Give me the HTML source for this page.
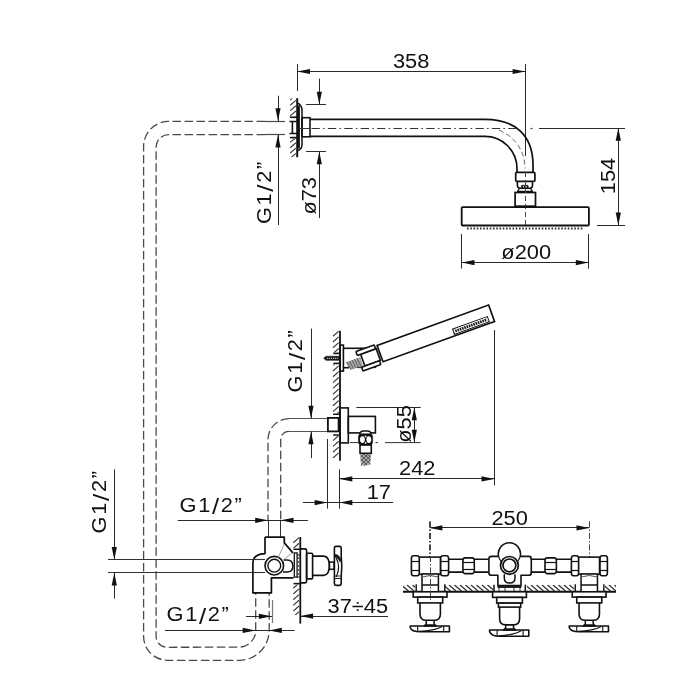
<!DOCTYPE html>
<html><head><meta charset="utf-8"><style>
html,body{margin:0;padding:0;background:#fff;width:700px;height:700px;overflow:hidden}
svg{display:block}
text{font-family:"Liberation Sans",sans-serif;fill:#111}
</style></head><body>
<svg width="700" height="700" style="will-change:transform" viewBox="0 0 700 700">
<rect width="700" height="700" fill="#fff"/>
<line x1="297.50" y1="64.00" x2="297.50" y2="91.00" stroke="#2a2a2a" stroke-width="1.0" stroke-linecap="butt"/>
<line x1="525.50" y1="64.00" x2="525.50" y2="156.00" stroke="#2a2a2a" stroke-width="1.0" stroke-linecap="butt"/>
<line x1="297.20" y1="71.50" x2="525.40" y2="71.50" stroke="#2a2a2a" stroke-width="1.0" stroke-linecap="butt"/>
<path d="M297.20,71.50 L310.00,68.90 L310.00,74.10 Z" fill="#111"/>
<path d="M525.40,71.50 L512.60,74.10 L512.60,68.90 Z" fill="#111"/>
<text transform="translate(411.10,67.90) scale(1.12,1)" text-anchor="middle" font-size="19.5">358</text>
<line x1="306.00" y1="104.50" x2="326.00" y2="104.50" stroke="#2a2a2a" stroke-width="1.0" stroke-linecap="butt"/>
<line x1="306.00" y1="151.50" x2="326.00" y2="151.50" stroke="#2a2a2a" stroke-width="1.0" stroke-linecap="butt"/>
<line x1="319.50" y1="78.60" x2="319.50" y2="104.50" stroke="#2a2a2a" stroke-width="1.0" stroke-linecap="butt"/>
<path d="M319.30,104.50 L316.70,91.70 L321.90,91.70 Z" fill="#111"/>
<line x1="319.50" y1="151.50" x2="319.50" y2="218.00" stroke="#2a2a2a" stroke-width="1.0" stroke-linecap="butt"/>
<path d="M319.30,151.50 L321.90,164.30 L316.70,164.30 Z" fill="#111"/>
<text transform="translate(315.70,195.80) rotate(-90) scale(1.12,1)" text-anchor="middle" font-size="19.5">ø73</text>
<line x1="278.50" y1="95.70" x2="278.50" y2="121.00" stroke="#2a2a2a" stroke-width="1.0" stroke-linecap="butt"/>
<path d="M278.00,121.00 L275.40,108.20 L280.60,108.20 Z" fill="#111"/>
<line x1="278.50" y1="134.60" x2="278.50" y2="225.00" stroke="#2a2a2a" stroke-width="1.0" stroke-linecap="butt"/>
<path d="M278.00,134.60 L280.60,147.40 L275.40,147.40 Z" fill="#111"/>
<text transform="translate(270.70,192.90) rotate(-90) scale(1.12,1)" text-anchor="middle" font-size="19.5" letter-spacing="1.5" dx="0.75">G1<tspan font-size="23" dy="2.5">/</tspan><tspan dy="-2.5">2”</tspan></text>
<line x1="297.20" y1="98.20" x2="297.20" y2="157.20" stroke="#111" stroke-width="2.0" stroke-linecap="butt"/>
<clipPath id="hc1"><rect x="289.20" y="98.60" width="8.00" height="17.90"/><rect x="289.20" y="138.50" width="8.00" height="18.50"/></clipPath>
<g clip-path="url(#hc1)">
<line x1="290.20" y1="94.70" x2="295.90" y2="89.81" stroke="#3a3a3a" stroke-width="1.15" stroke-linecap="butt"/>
<line x1="290.20" y1="100.00" x2="295.90" y2="95.11" stroke="#3a3a3a" stroke-width="1.15" stroke-linecap="butt"/>
<line x1="290.20" y1="105.30" x2="295.90" y2="100.41" stroke="#3a3a3a" stroke-width="1.15" stroke-linecap="butt"/>
<line x1="290.20" y1="110.60" x2="295.90" y2="105.71" stroke="#3a3a3a" stroke-width="1.15" stroke-linecap="butt"/>
<line x1="290.20" y1="115.90" x2="295.90" y2="111.01" stroke="#3a3a3a" stroke-width="1.15" stroke-linecap="butt"/>
<line x1="290.20" y1="121.20" x2="295.90" y2="116.31" stroke="#3a3a3a" stroke-width="1.15" stroke-linecap="butt"/>
<line x1="290.20" y1="126.50" x2="295.90" y2="121.61" stroke="#3a3a3a" stroke-width="1.15" stroke-linecap="butt"/>
<line x1="290.20" y1="131.80" x2="295.90" y2="126.91" stroke="#3a3a3a" stroke-width="1.15" stroke-linecap="butt"/>
<line x1="290.20" y1="137.10" x2="295.90" y2="132.21" stroke="#3a3a3a" stroke-width="1.15" stroke-linecap="butt"/>
<line x1="290.20" y1="142.40" x2="295.90" y2="137.51" stroke="#3a3a3a" stroke-width="1.15" stroke-linecap="butt"/>
<line x1="290.20" y1="147.70" x2="295.90" y2="142.81" stroke="#3a3a3a" stroke-width="1.15" stroke-linecap="butt"/>
<line x1="290.20" y1="153.00" x2="295.90" y2="148.11" stroke="#3a3a3a" stroke-width="1.15" stroke-linecap="butt"/>
<line x1="290.20" y1="158.30" x2="295.90" y2="153.41" stroke="#3a3a3a" stroke-width="1.15" stroke-linecap="butt"/>
</g>
<path d="M297.2,103 Q302,105 302,110.5 L302,145 Q302,149 297.2,151" stroke="#111" stroke-width="1.5" fill="none" stroke-linejoin="round" />
<line x1="298.60" y1="105.50" x2="298.60" y2="148.50" stroke="#111" stroke-width="2.6" stroke-linecap="butt"/>
<rect x="302.00" y="117.70" width="8.00" height="19.10" rx="0" stroke="#111" stroke-width="1.6" fill="none"/>
<path d="M297,121.5 L289.5,121.5 M292.4,121.5 L292.4,133.5 M289.5,133.5 L297,133.5" stroke="#111" stroke-width="1.6" fill="none" stroke-linejoin="round" />
<line x1="289.90" y1="117.30" x2="297.20" y2="117.30" stroke="#111" stroke-width="1.6" stroke-linecap="butt"/>
<line x1="289.90" y1="137.60" x2="297.20" y2="137.60" stroke="#111" stroke-width="1.6" stroke-linecap="butt"/>
<path d="M310,119.3 L485,119.3 C516,119.3 533,136 533,165 L533,172" stroke="#111" stroke-width="1.7" fill="none" stroke-linejoin="round" />
<path d="M310,136.4 L485,136.4 A32,32 0 0 1 517,168.4 L517,172" stroke="#111" stroke-width="1.7" fill="none" stroke-linejoin="round" />
<line x1="299.00" y1="128.50" x2="310.00" y2="128.50" stroke="#333" stroke-width="1.0" stroke-linecap="butt"/>
<path d="M311.5,128.5 L519.5,128.5" stroke="#333" stroke-width="1.1" fill="none" stroke-dasharray="8.3 3.3 1.5 3.3" stroke-linejoin="round" />
<path d="M499,130.2 A40.5,40.5 0 0 1 525,168.5" stroke="#666" stroke-width="1.0" fill="none" stroke-dasharray="5 3" stroke-linejoin="round" />
<line x1="539.00" y1="128.50" x2="625.00" y2="128.50" stroke="#2a2a2a" stroke-width="1.0" stroke-linecap="butt"/>
<line x1="530.50" y1="128.50" x2="532.50" y2="128.50" stroke="#444" stroke-width="1.2" stroke-linecap="butt"/>
<rect x="515.70" y="172.40" width="19.20" height="9.00" rx="1.2" stroke="#111" stroke-width="1.7" fill="none"/>
<path d="M517.4,181.4 L517.4,185.2 Q517.4,188.2 520.4,188.2 L529.5,188.2 Q532.5,188.2 532.5,185.2 L532.5,181.4" stroke="#111" stroke-width="1.6" fill="none" stroke-linejoin="round" />
<rect x="521.40" y="185.30" width="6.80" height="2.90" rx="0.8" stroke="#111" stroke-width="0.6" fill="#111"/>
<circle cx="523.5" cy="186.8" r="0.7" fill="#fff"/><circle cx="526.1" cy="186.8" r="0.7" fill="#fff"/>
<path d="M519.5,188.2 L517.5,191.5 L532.5,191.5 L530.5,188.2" stroke="#111" stroke-width="1.3" fill="none" stroke-linejoin="round" />
<rect x="515.10" y="192.50" width="20.40" height="13.70" rx="0" stroke="#111" stroke-width="1.7" fill="none"/>
<line x1="525.50" y1="172.00" x2="525.50" y2="225.00" stroke="#444" stroke-width="1.0" stroke-dasharray="5 3" stroke-linecap="butt"/>
<rect x="461.70" y="207.10" width="127.20" height="18.40" rx="1" stroke="#111" stroke-width="1.8" fill="none"/>
<path d="M467,228.5 L583,228.5" stroke="#333" stroke-width="2.0" fill="none" stroke-dasharray="1.6 1.65" stroke-linejoin="round" />
<line x1="461.50" y1="234.00" x2="461.50" y2="268.60" stroke="#2a2a2a" stroke-width="1.0" stroke-linecap="butt"/>
<line x1="588.50" y1="234.00" x2="588.50" y2="268.60" stroke="#2a2a2a" stroke-width="1.0" stroke-linecap="butt"/>
<line x1="461.70" y1="262.50" x2="588.60" y2="262.50" stroke="#2a2a2a" stroke-width="1.0" stroke-linecap="butt"/>
<path d="M461.70,262.60 L474.50,260.00 L474.50,265.20 Z" fill="#111"/>
<path d="M588.60,262.60 L575.80,265.20 L575.80,260.00 Z" fill="#111"/>
<text transform="translate(526.20,258.60) scale(1.12,1)" text-anchor="middle" font-size="19.5">ø200</text>
<line x1="597.00" y1="225.50" x2="625.00" y2="225.50" stroke="#2a2a2a" stroke-width="1.0" stroke-linecap="butt"/>
<line x1="618.50" y1="128.00" x2="618.50" y2="225.40" stroke="#2a2a2a" stroke-width="1.0" stroke-linecap="butt"/>
<path d="M618.30,128.00 L620.90,140.80 L615.70,140.80 Z" fill="#111"/>
<path d="M618.30,225.40 L615.70,212.60 L620.90,212.60 Z" fill="#111"/>
<text transform="translate(615.00,176.00) rotate(-90) scale(1.12,1)" text-anchor="middle" font-size="19.5">154</text>
<line x1="265.00" y1="121.50" x2="285.00" y2="121.50" stroke="#4a4a4a" stroke-width="1.2" stroke-linecap="butt"/>
<line x1="265.00" y1="134.50" x2="285.00" y2="134.50" stroke="#4a4a4a" stroke-width="1.2" stroke-linecap="butt"/>
<path d="M265,121.4 L168.5,121.4 A25,25 0 0 0 143.6,147 L143.6,636.5 A24,24 0 0 0 167.5,660.3 L239.1,660.3 A30.1,30.1 0 0 0 269.2,630.3 L269.2,593" stroke="#4a4a4a" stroke-width="1.3" fill="none" stroke-dasharray="8.5 3.5" stroke-linejoin="round" />
<path d="M265,134.6 L168.5,134.6 A12.5,12.5 0 0 0 156.1,147 L156.1,636.5 A11,11 0 0 0 167.5,647.3 L239.1,647.1 A16.6,16.6 0 0 0 255.7,630.3 L255.7,593" stroke="#4a4a4a" stroke-width="1.3" fill="none" stroke-dasharray="8.5 3.5" stroke-linejoin="round" />
<line x1="289.00" y1="418.50" x2="328.00" y2="418.50" stroke="#555" stroke-width="1.1" stroke-linecap="butt"/>
<path d="M289,418.6 A21,21 0 0 0 268,439.6 L268,520" stroke="#4a4a4a" stroke-width="1.3" fill="none" stroke-dasharray="8.5 3.5" stroke-linejoin="round" />
<line x1="289.00" y1="431.50" x2="328.00" y2="431.50" stroke="#555" stroke-width="1.1" stroke-linecap="butt"/>
<path d="M289,431.4 A8.3,8.3 0 0 0 280.7,439.7 L280.7,520" stroke="#4a4a4a" stroke-width="1.3" fill="none" stroke-dasharray="8.5 3.5" stroke-linejoin="round" />
<line x1="268.50" y1="520.00" x2="268.50" y2="537.00" stroke="#333" stroke-width="1.0" stroke-linecap="butt"/>
<line x1="280.50" y1="520.00" x2="280.50" y2="537.00" stroke="#333" stroke-width="1.0" stroke-linecap="butt"/>
<line x1="108.00" y1="559.50" x2="253.00" y2="559.50" stroke="#333" stroke-width="1.2" stroke-linecap="butt"/>
<line x1="108.00" y1="572.50" x2="253.00" y2="572.50" stroke="#333" stroke-width="1.2" stroke-linecap="butt"/>
<line x1="114.50" y1="469.30" x2="114.50" y2="559.80" stroke="#2a2a2a" stroke-width="1.0" stroke-linecap="butt"/>
<path d="M114.30,559.80 L111.70,547.00 L116.90,547.00 Z" fill="#111"/>
<line x1="114.50" y1="572.80" x2="114.50" y2="598.60" stroke="#2a2a2a" stroke-width="1.0" stroke-linecap="butt"/>
<path d="M114.30,572.80 L116.90,585.60 L111.70,585.60 Z" fill="#111"/>
<text transform="translate(106.40,502.20) rotate(-90) scale(1.12,1)" text-anchor="middle" font-size="19.5" letter-spacing="1.5" dx="0.75">G1<tspan font-size="23" dy="2.5">/</tspan><tspan dy="-2.5">2”</tspan></text>
<line x1="177.70" y1="520.50" x2="307.90" y2="520.50" stroke="#2a2a2a" stroke-width="1.0" stroke-linecap="butt"/>
<path d="M268.00,520.30 L255.20,522.90 L255.20,517.70 Z" fill="#111"/>
<path d="M280.70,520.30 L293.50,517.70 L293.50,522.90 Z" fill="#111"/>
<text transform="translate(210.70,511.70) scale(1.12,1)" text-anchor="middle" font-size="19.5" letter-spacing="1.5" dx="0.75">G1<tspan font-size="23" dy="2.5">/</tspan><tspan dy="-2.5">2”</tspan></text>
<line x1="165.00" y1="630.50" x2="294.60" y2="630.50" stroke="#2a2a2a" stroke-width="1.0" stroke-linecap="butt"/>
<path d="M255.50,630.40 L242.70,633.00 L242.70,627.80 Z" fill="#111"/>
<path d="M269.00,630.40 L281.80,627.80 L281.80,633.00 Z" fill="#111"/>
<text transform="translate(197.70,621.40) scale(1.12,1)" text-anchor="middle" font-size="19.5" letter-spacing="1.5" dx="0.75">G1<tspan font-size="23" dy="2.5">/</tspan><tspan dy="-2.5">2”</tspan></text>
<line x1="246.00" y1="616.50" x2="272.00" y2="616.50" stroke="#2a2a2a" stroke-width="1.0" stroke-linecap="butt"/>
<path d="M271.60,616.30 L258.80,618.90 L258.80,613.70 Z" fill="#111"/>
<line x1="272.50" y1="600.00" x2="272.50" y2="623.00" stroke="#777" stroke-width="1.2" stroke-linecap="butt"/>
<line x1="311.50" y1="328.60" x2="311.50" y2="418.60" stroke="#2a2a2a" stroke-width="1.0" stroke-linecap="butt"/>
<path d="M311.00,418.60 L308.40,405.80 L313.60,405.80 Z" fill="#111"/>
<line x1="311.50" y1="431.40" x2="311.50" y2="458.00" stroke="#2a2a2a" stroke-width="1.0" stroke-linecap="butt"/>
<path d="M311.00,431.40 L313.60,444.20 L308.40,444.20 Z" fill="#111"/>
<text transform="translate(302.00,361.30) rotate(-90) scale(1.12,1)" text-anchor="middle" font-size="19.5" letter-spacing="1.5" dx="0.75">G1<tspan font-size="23" dy="2.5">/</tspan><tspan dy="-2.5">2”</tspan></text>
<line x1="340.00" y1="330.70" x2="340.00" y2="460.70" stroke="#111" stroke-width="1.8" stroke-linecap="butt"/>
<line x1="339.50" y1="469.30" x2="339.50" y2="508.60" stroke="#2a2a2a" stroke-width="1.0" stroke-linecap="butt"/>
<clipPath id="hc2"><rect x="332.00" y="330.40" width="8.00" height="22.10"/><rect x="332.00" y="364.50" width="8.00" height="49.00"/><rect x="332.00" y="436.00" width="8.00" height="22.00"/></clipPath>
<g clip-path="url(#hc2)">
<line x1="333.00" y1="330.40" x2="338.70" y2="325.27" stroke="#3a3a3a" stroke-width="1.15" stroke-linecap="butt"/>
<line x1="333.00" y1="336.20" x2="338.70" y2="331.07" stroke="#3a3a3a" stroke-width="1.15" stroke-linecap="butt"/>
<line x1="333.00" y1="342.00" x2="338.70" y2="336.87" stroke="#3a3a3a" stroke-width="1.15" stroke-linecap="butt"/>
<line x1="333.00" y1="347.80" x2="338.70" y2="342.67" stroke="#3a3a3a" stroke-width="1.15" stroke-linecap="butt"/>
<line x1="333.00" y1="353.60" x2="338.70" y2="348.47" stroke="#3a3a3a" stroke-width="1.15" stroke-linecap="butt"/>
<line x1="333.00" y1="359.40" x2="338.70" y2="354.27" stroke="#3a3a3a" stroke-width="1.15" stroke-linecap="butt"/>
<line x1="333.00" y1="365.20" x2="338.70" y2="360.07" stroke="#3a3a3a" stroke-width="1.15" stroke-linecap="butt"/>
<line x1="333.00" y1="371.00" x2="338.70" y2="365.87" stroke="#3a3a3a" stroke-width="1.15" stroke-linecap="butt"/>
<line x1="333.00" y1="376.80" x2="338.70" y2="371.67" stroke="#3a3a3a" stroke-width="1.15" stroke-linecap="butt"/>
<line x1="333.00" y1="382.60" x2="338.70" y2="377.47" stroke="#3a3a3a" stroke-width="1.15" stroke-linecap="butt"/>
<line x1="333.00" y1="388.40" x2="338.70" y2="383.27" stroke="#3a3a3a" stroke-width="1.15" stroke-linecap="butt"/>
<line x1="333.00" y1="394.20" x2="338.70" y2="389.07" stroke="#3a3a3a" stroke-width="1.15" stroke-linecap="butt"/>
<line x1="333.00" y1="400.00" x2="338.70" y2="394.87" stroke="#3a3a3a" stroke-width="1.15" stroke-linecap="butt"/>
<line x1="333.00" y1="405.80" x2="338.70" y2="400.67" stroke="#3a3a3a" stroke-width="1.15" stroke-linecap="butt"/>
<line x1="333.00" y1="411.60" x2="338.70" y2="406.47" stroke="#3a3a3a" stroke-width="1.15" stroke-linecap="butt"/>
<line x1="333.00" y1="417.40" x2="338.70" y2="412.27" stroke="#3a3a3a" stroke-width="1.15" stroke-linecap="butt"/>
<line x1="333.00" y1="423.20" x2="338.70" y2="418.07" stroke="#3a3a3a" stroke-width="1.15" stroke-linecap="butt"/>
<line x1="333.00" y1="429.00" x2="338.70" y2="423.87" stroke="#3a3a3a" stroke-width="1.15" stroke-linecap="butt"/>
<line x1="333.00" y1="434.80" x2="338.70" y2="429.67" stroke="#3a3a3a" stroke-width="1.15" stroke-linecap="butt"/>
<line x1="333.00" y1="440.60" x2="338.70" y2="435.47" stroke="#3a3a3a" stroke-width="1.15" stroke-linecap="butt"/>
<line x1="333.00" y1="446.40" x2="338.70" y2="441.27" stroke="#3a3a3a" stroke-width="1.15" stroke-linecap="butt"/>
<line x1="333.00" y1="452.20" x2="338.70" y2="447.07" stroke="#3a3a3a" stroke-width="1.15" stroke-linecap="butt"/>
<line x1="333.00" y1="458.00" x2="338.70" y2="452.87" stroke="#3a3a3a" stroke-width="1.15" stroke-linecap="butt"/>
<line x1="333.00" y1="463.80" x2="338.70" y2="458.67" stroke="#3a3a3a" stroke-width="1.15" stroke-linecap="butt"/>
</g>
<path d="M345.4,362.5 L360.7,357.1 L362.9,365.7 L350.7,370 Z" fill="#aaa"/>
<path d="M347,361.8 L351,369.5 M349.5,361 L353.5,368.8 M352,360.1 L356,368 M354.5,359.2 L358.5,367.1 M357,358.3 L361,366.3" stroke="#444" stroke-width="0.8" fill="none" stroke-linejoin="round" />
<rect x="340.00" y="345.10" width="3.40" height="26.00" rx="0" stroke="#111" stroke-width="1.6" fill="none"/>
<line x1="343.40" y1="348.30" x2="366.00" y2="348.30" stroke="#111" stroke-width="1.6" stroke-linecap="butt"/>
<line x1="343.40" y1="367.70" x2="349.00" y2="367.70" stroke="#111" stroke-width="1.6" stroke-linecap="butt"/>
<path d="M360,348.3 L368,348.3 L368,351 Z" stroke="#111" stroke-width="0.5" fill="#111" stroke-linejoin="round" />
<path d="M357,367.7 L376,367.7 L376,364 Z" stroke="#111" stroke-width="0.5" fill="#111" stroke-linejoin="round" />
<path d="M323.7,358.3 L326,356.3 L339.4,356.3 L339.4,360.3 L326,360.3 Z" stroke="#111" stroke-width="0.6" fill="#1a1a1a" stroke-linejoin="round" />
<path d="M327,358.3 L338,358.3" stroke="#ddd" stroke-width="1.0" fill="none" stroke-dasharray="1.2 0.8" stroke-linejoin="round" />
<line x1="333.40" y1="353.40" x2="340.00" y2="353.40" stroke="#111" stroke-width="1.6" stroke-linecap="butt"/>
<line x1="333.40" y1="363.40" x2="340.00" y2="363.40" stroke="#111" stroke-width="1.6" stroke-linecap="butt"/>
<g transform="translate(380.06,353.58) rotate(-19.9)">
<rect x="-18.50" y="-6.00" width="16.50" height="12.50" rx="0" stroke="#111" stroke-width="1.6" fill="#fff"/>
<rect x="-22.00" y="-10.20" width="19.40" height="4.20" rx="0.8" stroke="#111" stroke-width="1.6" fill="#fff"/>
<rect x="-22.00" y="6.50" width="19.00" height="4.10" rx="0.8" stroke="#111" stroke-width="1.6" fill="#fff"/>
<rect x="0.00" y="-8.70" width="118.60" height="17.40" rx="0" stroke="#111" stroke-width="1.7" fill="#fff"/>
<rect x="76" y="1.2" width="38" height="6.5" fill="#111"/>
<rect x="77.6" y="2.6" width="35" height="3.7" stroke="#fff" stroke-width="0.9" fill="none"/>
<path d="M78.0,2.6 L78.0,6.3 M80.4,2.6 L80.4,6.3 M82.8,2.6 L82.8,6.3 M85.2,2.6 L85.2,6.3 M87.6,2.6 L87.6,6.3 M90.0,2.6 L90.0,6.3 M92.4,2.6 L92.4,6.3 M94.8,2.6 L94.8,6.3 M97.2,2.6 L97.2,6.3 M99.6,2.6 L99.6,6.3 M102.0,2.6 L102.0,6.3 M104.4,2.6 L104.4,6.3 M106.8,2.6 L106.8,6.3 M109.2,2.6 L109.2,6.3 M111.6,2.6 L111.6,6.3" stroke="#fff" stroke-width="0.8"/>
</g>
<line x1="494.50" y1="330.00" x2="494.50" y2="485.40" stroke="#2a2a2a" stroke-width="1.0" stroke-linecap="butt"/>
<rect x="327.90" y="417.90" width="10.70" height="13.50" rx="0" stroke="#111" stroke-width="1.8" fill="none"/>
<line x1="333.00" y1="414.30" x2="340.00" y2="414.30" stroke="#111" stroke-width="1.4" stroke-linecap="butt"/>
<line x1="333.00" y1="435.00" x2="340.00" y2="435.00" stroke="#111" stroke-width="1.4" stroke-linecap="butt"/>
<rect x="340.00" y="407.90" width="8.30" height="35.00" rx="0" stroke="#111" stroke-width="1.6" fill="none"/>
<rect x="348.30" y="416.40" width="27.10" height="16.50" rx="0" stroke="#111" stroke-width="1.6" fill="none"/>
<path d="M359.8,434.5 Q360.2,431.1 363.5,431.1 L367.5,431.1 Q370.8,431.1 371.2,434.5" stroke="#111" stroke-width="1.5" fill="#fff" stroke-linejoin="round" />
<rect x="358.40" y="433.80" width="14.20" height="11.20" rx="3" stroke="#111" stroke-width="0.5" fill="#111"/>
<ellipse cx="362.4" cy="439.6" rx="2.4" ry="3.4" fill="#fff"/>
<ellipse cx="368.8" cy="439.6" rx="2.4" ry="3.4" fill="#fff"/>
<circle cx="365.6" cy="436.4" r="0.9" fill="#fff"/><circle cx="365.6" cy="442.9" r="0.9" fill="#fff"/>
<rect x="360.00" y="445.00" width="11.30" height="8.30" rx="0" stroke="#111" stroke-width="1.6" fill="#fff"/>
<path d="M360.3,454 L371,454 L370.2,465 L361,466 Z" fill="#b0b0b0"/>
<path d="M360.5,457 L364,454 M360.6,461 L368,454.2 M360.8,465 L370.8,455.5 M364,465.6 L370.5,459.5 M360.5,455 L370.5,464 M360.6,459 L367,465 M364,454.2 L370.8,460 M367.5,454.2 L370.6,457" stroke="#333" stroke-width="0.8" fill="none" stroke-linejoin="round" />
<line x1="356.40" y1="407.50" x2="420.70" y2="407.50" stroke="#2a2a2a" stroke-width="1.0" stroke-linecap="butt"/>
<path d="M350,442.6 L358.6,442.6 M375.5,442.6 L378,442.6 M385,442.6 L420.7,442.6" stroke="#333" stroke-width="1.0" fill="none" stroke-linejoin="round" />
<line x1="414.50" y1="407.40" x2="414.50" y2="442.60" stroke="#2a2a2a" stroke-width="1.0" stroke-linecap="butt"/>
<path d="M414.30,407.40 L416.90,420.20 L411.70,420.20 Z" fill="#111"/>
<path d="M414.30,442.60 L411.70,429.80 L416.90,429.80 Z" fill="#111"/>
<text transform="translate(411.40,423.90) rotate(-90) scale(1.12,1)" text-anchor="middle" font-size="19.5">ø55</text>
<line x1="339.70" y1="478.50" x2="494.30" y2="478.50" stroke="#2a2a2a" stroke-width="1.0" stroke-linecap="butt"/>
<path d="M339.50,478.90 L352.30,476.30 L352.30,481.50 Z" fill="#111"/>
<path d="M494.30,478.90 L481.50,481.50 L481.50,476.30 Z" fill="#111"/>
<text transform="translate(417.30,475.30) scale(1.12,1)" text-anchor="middle" font-size="19.5">242</text>
<line x1="327.50" y1="439.00" x2="327.50" y2="508.60" stroke="#2a2a2a" stroke-width="1.0" stroke-linecap="butt"/>
<line x1="302.90" y1="502.50" x2="393.20" y2="502.50" stroke="#2a2a2a" stroke-width="1.0" stroke-linecap="butt"/>
<path d="M327.40,502.60 L314.60,505.20 L314.60,500.00 Z" fill="#111"/>
<path d="M339.50,502.60 L352.30,500.00 L352.30,505.20 Z" fill="#111"/>
<text transform="translate(378.80,499.30) scale(1.12,1)" text-anchor="middle" font-size="19.5">17</text>
<line x1="300.30" y1="537.00" x2="300.30" y2="623.60" stroke="#111" stroke-width="1.8" stroke-linecap="butt"/>
<clipPath id="hc3"><rect x="292.30" y="537.00" width="8.00" height="11.50"/><rect x="292.30" y="584.50" width="8.00" height="30.50"/></clipPath>
<g clip-path="url(#hc3)">
<line x1="293.30" y1="537.00" x2="299.00" y2="531.87" stroke="#3a3a3a" stroke-width="1.15" stroke-linecap="butt"/>
<line x1="293.30" y1="542.70" x2="299.00" y2="537.57" stroke="#3a3a3a" stroke-width="1.15" stroke-linecap="butt"/>
<line x1="293.30" y1="548.40" x2="299.00" y2="543.27" stroke="#3a3a3a" stroke-width="1.15" stroke-linecap="butt"/>
<line x1="293.30" y1="554.10" x2="299.00" y2="548.97" stroke="#3a3a3a" stroke-width="1.15" stroke-linecap="butt"/>
<line x1="293.30" y1="559.80" x2="299.00" y2="554.67" stroke="#3a3a3a" stroke-width="1.15" stroke-linecap="butt"/>
<line x1="293.30" y1="565.50" x2="299.00" y2="560.37" stroke="#3a3a3a" stroke-width="1.15" stroke-linecap="butt"/>
<line x1="293.30" y1="571.20" x2="299.00" y2="566.07" stroke="#3a3a3a" stroke-width="1.15" stroke-linecap="butt"/>
<line x1="293.30" y1="576.90" x2="299.00" y2="571.77" stroke="#3a3a3a" stroke-width="1.15" stroke-linecap="butt"/>
<line x1="293.30" y1="582.60" x2="299.00" y2="577.47" stroke="#3a3a3a" stroke-width="1.15" stroke-linecap="butt"/>
<line x1="293.30" y1="588.30" x2="299.00" y2="583.17" stroke="#3a3a3a" stroke-width="1.15" stroke-linecap="butt"/>
<line x1="293.30" y1="594.00" x2="299.00" y2="588.87" stroke="#3a3a3a" stroke-width="1.15" stroke-linecap="butt"/>
<line x1="293.30" y1="599.70" x2="299.00" y2="594.57" stroke="#3a3a3a" stroke-width="1.15" stroke-linecap="butt"/>
<line x1="293.30" y1="605.40" x2="299.00" y2="600.27" stroke="#3a3a3a" stroke-width="1.15" stroke-linecap="butt"/>
<line x1="293.30" y1="611.10" x2="299.00" y2="605.97" stroke="#3a3a3a" stroke-width="1.15" stroke-linecap="butt"/>
<line x1="293.30" y1="616.80" x2="299.00" y2="611.67" stroke="#3a3a3a" stroke-width="1.15" stroke-linecap="butt"/>
</g>
<path d="M265,537.1 L284.3,537.1 L284.3,542.9 L292.9,552.9 M265,537.1 L265,553.6 Q253,554 252.9,563 L252.9,592.9 L271.4,592.9 L271.4,577.9 L293.6,577.9" stroke="#111" stroke-width="1.7" fill="none" stroke-linejoin="round" />
<circle cx="274.3" cy="565.7" r="9.3" stroke="#111" stroke-width="1.6" fill="#fff"/>
<circle cx="274.3" cy="565.7" r="6.4" stroke="#111" stroke-width="1.4" fill="none"/>
<path d="M283.6,560 L287,560 Q292.9,560 292.9,566 Q292.9,572 287,572 L283,572" stroke="#111" stroke-width="1.5" fill="none" stroke-linejoin="round" />
<path d="M284.3,544 L278,558 M292,553 L282,561" stroke="#888" stroke-width="0.8" fill="none" stroke-linejoin="round" />
<rect x="294.30" y="552.90" width="2.80" height="24.20" rx="0" stroke="#111" stroke-width="1.3" fill="none"/>
<line x1="293.50" y1="549.30" x2="300.30" y2="549.30" stroke="#111" stroke-width="1.5" stroke-linecap="butt"/>
<line x1="293.50" y1="583.60" x2="300.30" y2="583.60" stroke="#111" stroke-width="1.5" stroke-linecap="butt"/>
<line x1="252.90" y1="559.50" x2="265.00" y2="559.50" stroke="#333" stroke-width="1.1" stroke-linecap="butt"/>
<line x1="252.90" y1="572.50" x2="265.00" y2="572.50" stroke="#333" stroke-width="1.1" stroke-linecap="butt"/>
<path d="M297.2,555 L300.3,555 M297.2,577 L300.3,577" stroke="#111" stroke-width="1.2" fill="none" stroke-linejoin="round" />
<path d="M298.7,557 L298.7,575" stroke="#555" stroke-width="1.2" fill="none" stroke-dasharray="2 2" stroke-linejoin="round" />
<path d="M300.3,548.9 L305,548.9 Q306.6,548.9 306.6,550.5 L306.6,581.3 Q306.6,582.9 305,582.9 L300.3,582.9" stroke="#111" stroke-width="1.6" fill="none" stroke-linejoin="round" />
<rect x="306.60" y="553.20" width="6.00" height="25.70" rx="1" stroke="#111" stroke-width="1.6" fill="none"/>
<path d="M312.6,556.1 L323.7,556.1 Q329.4,556.6 329.4,565.7 Q329.4,574.9 323.7,575.4 L312.6,575.4" stroke="#111" stroke-width="1.6" fill="none" stroke-linejoin="round" />
<rect x="329.40" y="562.10" width="4.70" height="7.20" rx="0" stroke="#111" stroke-width="1.5" fill="none"/>
<path d="M334.4,548 Q334.4,546.4 336,546.4 L339.6,546.4 Q341.2,546.4 341.2,548 L341.2,556 Q342.4,566 341.2,577 L341.2,583.8 Q341.2,585.4 339.6,585.4 L336,585.4 Q334.4,585.4 334.4,583.8 Z" stroke="#111" stroke-width="1.6" fill="none" stroke-linejoin="round" />
<path d="M334.6,554.5 Q339,554 341,560 L340,562 Q338,557 334.6,557 Z" stroke="#111" stroke-width="0.6" fill="#111" stroke-linejoin="round" />
<path d="M336.2,558 Q341,567 336.2,577" stroke="#111" stroke-width="1.2" fill="none" stroke-linejoin="round" />
<path d="M334.5,576 L341,576 M334.5,578.5 L341,578.5" stroke="#222" stroke-width="1.0" fill="none" stroke-linejoin="round" />
<line x1="300.30" y1="616.50" x2="388.00" y2="616.50" stroke="#2a2a2a" stroke-width="1.0" stroke-linecap="butt"/>
<path d="M300.30,616.10 L313.10,613.50 L313.10,618.70 Z" fill="#111"/>
<text transform="translate(357.80,612.90) scale(1.12,1)" text-anchor="middle" font-size="19.5">37÷45</text>
<line x1="429.50" y1="521.40" x2="429.50" y2="590.00" stroke="#444" stroke-width="1.0" stroke-dasharray="6 2 1.5 2" stroke-linecap="butt"/>
<line x1="589.50" y1="521.40" x2="589.50" y2="590.00" stroke="#444" stroke-width="1.0" stroke-dasharray="6 2 1.5 2" stroke-linecap="butt"/>
<line x1="429.60" y1="527.50" x2="589.30" y2="527.50" stroke="#2a2a2a" stroke-width="1.0" stroke-linecap="butt"/>
<path d="M429.60,527.90 L442.40,525.30 L442.40,530.50 Z" fill="#111"/>
<path d="M589.30,527.90 L576.50,530.50 L576.50,525.30 Z" fill="#111"/>
<text transform="translate(509.70,524.90) scale(1.12,1)" text-anchor="middle" font-size="19.5">250</text>
<line x1="403.00" y1="591.80" x2="616.00" y2="591.80" stroke="#111" stroke-width="2.0" stroke-linecap="butt"/>
<clipPath id="hc4"><rect x="403" y="584.5" width="12" height="7"/></clipPath><g clip-path="url(#hc4)">
<line x1="396.00" y1="585.00" x2="403.00" y2="591.00" stroke="#333" stroke-width="1.3" stroke-linecap="butt"/>
<line x1="401.50" y1="585.00" x2="408.50" y2="591.00" stroke="#333" stroke-width="1.3" stroke-linecap="butt"/>
<line x1="407.00" y1="585.00" x2="414.00" y2="591.00" stroke="#333" stroke-width="1.3" stroke-linecap="butt"/>
<line x1="412.50" y1="585.00" x2="419.50" y2="591.00" stroke="#333" stroke-width="1.3" stroke-linecap="butt"/>
</g>
<clipPath id="hc5"><rect x="445" y="584.5" width="48" height="7"/></clipPath><g clip-path="url(#hc5)">
<line x1="438.00" y1="585.00" x2="445.00" y2="591.00" stroke="#333" stroke-width="1.3" stroke-linecap="butt"/>
<line x1="443.50" y1="585.00" x2="450.50" y2="591.00" stroke="#333" stroke-width="1.3" stroke-linecap="butt"/>
<line x1="449.00" y1="585.00" x2="456.00" y2="591.00" stroke="#333" stroke-width="1.3" stroke-linecap="butt"/>
<line x1="454.50" y1="585.00" x2="461.50" y2="591.00" stroke="#333" stroke-width="1.3" stroke-linecap="butt"/>
<line x1="460.00" y1="585.00" x2="467.00" y2="591.00" stroke="#333" stroke-width="1.3" stroke-linecap="butt"/>
<line x1="465.50" y1="585.00" x2="472.50" y2="591.00" stroke="#333" stroke-width="1.3" stroke-linecap="butt"/>
<line x1="471.00" y1="585.00" x2="478.00" y2="591.00" stroke="#333" stroke-width="1.3" stroke-linecap="butt"/>
<line x1="476.50" y1="585.00" x2="483.50" y2="591.00" stroke="#333" stroke-width="1.3" stroke-linecap="butt"/>
<line x1="482.00" y1="585.00" x2="489.00" y2="591.00" stroke="#333" stroke-width="1.3" stroke-linecap="butt"/>
<line x1="487.50" y1="585.00" x2="494.50" y2="591.00" stroke="#333" stroke-width="1.3" stroke-linecap="butt"/>
</g>
<clipPath id="hc6"><rect x="527" y="584.5" width="47" height="7"/></clipPath><g clip-path="url(#hc6)">
<line x1="520.00" y1="585.00" x2="527.00" y2="591.00" stroke="#333" stroke-width="1.3" stroke-linecap="butt"/>
<line x1="525.50" y1="585.00" x2="532.50" y2="591.00" stroke="#333" stroke-width="1.3" stroke-linecap="butt"/>
<line x1="531.00" y1="585.00" x2="538.00" y2="591.00" stroke="#333" stroke-width="1.3" stroke-linecap="butt"/>
<line x1="536.50" y1="585.00" x2="543.50" y2="591.00" stroke="#333" stroke-width="1.3" stroke-linecap="butt"/>
<line x1="542.00" y1="585.00" x2="549.00" y2="591.00" stroke="#333" stroke-width="1.3" stroke-linecap="butt"/>
<line x1="547.50" y1="585.00" x2="554.50" y2="591.00" stroke="#333" stroke-width="1.3" stroke-linecap="butt"/>
<line x1="553.00" y1="585.00" x2="560.00" y2="591.00" stroke="#333" stroke-width="1.3" stroke-linecap="butt"/>
<line x1="558.50" y1="585.00" x2="565.50" y2="591.00" stroke="#333" stroke-width="1.3" stroke-linecap="butt"/>
<line x1="564.00" y1="585.00" x2="571.00" y2="591.00" stroke="#333" stroke-width="1.3" stroke-linecap="butt"/>
<line x1="569.50" y1="585.00" x2="576.50" y2="591.00" stroke="#333" stroke-width="1.3" stroke-linecap="butt"/>
</g>
<clipPath id="hc7"><rect x="605" y="584.5" width="11" height="7"/></clipPath><g clip-path="url(#hc7)">
<line x1="598.00" y1="585.00" x2="605.00" y2="591.00" stroke="#333" stroke-width="1.3" stroke-linecap="butt"/>
<line x1="603.50" y1="585.00" x2="610.50" y2="591.00" stroke="#333" stroke-width="1.3" stroke-linecap="butt"/>
<line x1="609.00" y1="585.00" x2="616.00" y2="591.00" stroke="#333" stroke-width="1.3" stroke-linecap="butt"/>
<line x1="614.50" y1="585.00" x2="621.50" y2="591.00" stroke="#333" stroke-width="1.3" stroke-linecap="butt"/>
</g>
<rect x="419.20" y="557.10" width="21.30" height="17.20" rx="0" stroke="#111" stroke-width="1.6" fill="#fff"/>
<rect x="422.00" y="574.00" width="16.40" height="17.80" rx="0" stroke="#111" stroke-width="1.5" fill="#fff"/>
<line x1="422.00" y1="585.00" x2="438.40" y2="585.00" stroke="#111" stroke-width="1.5" stroke-linecap="butt"/>
<path d="M422.0,577 Q430.2,574 438.4,577" stroke="#555" stroke-width="1.0" fill="none" stroke-linejoin="round" />
<line x1="416.20" y1="584.30" x2="416.20" y2="591.80" stroke="#111" stroke-width="1.4" stroke-linecap="butt"/>
<line x1="444.80" y1="584.30" x2="444.80" y2="591.80" stroke="#111" stroke-width="1.4" stroke-linecap="butt"/>
<rect x="413.20" y="591.80" width="33.80" height="5.30" rx="0" stroke="#111" stroke-width="1.6" fill="#fff"/>
<rect x="417.70" y="597.10" width="25.00" height="5.80" rx="0" stroke="#111" stroke-width="1.6" fill="#fff"/>
<path d="M420.0,602.9 L420.0,614 Q420.0,620.3 426.2,620.3 L434.2,620.3 Q440.4,620.3 440.4,614 L440.4,602.9" stroke="#111" stroke-width="1.6" fill="none" stroke-linejoin="round" />
<path d="M426.3,620.3 L426.3,623.7 L424.2,626 L436.2,626 L434.09999999999997,623.7 L434.09999999999997,620.3" stroke="#111" stroke-width="1.5" fill="none" stroke-linejoin="round" />
<path d="M425.7,624.2 L434.7,624.2 L436.2,626 L424.2,626 Z" fill="#111"/>
<path d="M410.2,626 L449.4,626 L449.4,631.8 L420.2,631.8 Q411.7,631.8 410.2,627.5 Z" stroke="#111" stroke-width="1.6" fill="none" stroke-linejoin="round" />
<path d="M417.7,626 L417.7,631.8 M443.7,626 L443.7,631.8 M419.2,631.3 Q434.2,630.8 442.2,626.5" stroke="#111" stroke-width="1.1" fill="none" stroke-linejoin="round" />
<rect x="578.25" y="557.10" width="21.30" height="17.20" rx="0" stroke="#111" stroke-width="1.6" fill="#fff"/>
<rect x="581.05" y="574.00" width="16.40" height="17.80" rx="0" stroke="#111" stroke-width="1.5" fill="#fff"/>
<line x1="581.05" y1="585.00" x2="597.45" y2="585.00" stroke="#111" stroke-width="1.5" stroke-linecap="butt"/>
<path d="M581.05,577 Q589.25,574 597.45,577" stroke="#555" stroke-width="1.0" fill="none" stroke-linejoin="round" />
<line x1="575.25" y1="584.30" x2="575.25" y2="591.80" stroke="#111" stroke-width="1.4" stroke-linecap="butt"/>
<line x1="603.85" y1="584.30" x2="603.85" y2="591.80" stroke="#111" stroke-width="1.4" stroke-linecap="butt"/>
<rect x="572.25" y="591.80" width="33.80" height="5.30" rx="0" stroke="#111" stroke-width="1.6" fill="#fff"/>
<rect x="576.75" y="597.10" width="25.00" height="5.80" rx="0" stroke="#111" stroke-width="1.6" fill="#fff"/>
<path d="M579.05,602.9 L579.05,614 Q579.05,620.3 585.25,620.3 L593.25,620.3 Q599.45,620.3 599.45,614 L599.45,602.9" stroke="#111" stroke-width="1.6" fill="none" stroke-linejoin="round" />
<path d="M585.35,620.3 L585.35,623.7 L583.25,626 L595.25,626 L593.15,623.7 L593.15,620.3" stroke="#111" stroke-width="1.5" fill="none" stroke-linejoin="round" />
<path d="M584.75,624.2 L593.75,624.2 L595.25,626 L583.25,626 Z" fill="#111"/>
<path d="M569.25,626 L608.45,626 L608.45,631.8 L579.25,631.8 Q570.75,631.8 569.25,627.5 Z" stroke="#111" stroke-width="1.6" fill="none" stroke-linejoin="round" />
<path d="M576.75,626 L576.75,631.8 M602.75,626 L602.75,631.8 M578.25,631.3 Q593.25,630.8 601.25,626.5" stroke="#111" stroke-width="1.1" fill="none" stroke-linejoin="round" />
<line x1="430.50" y1="521.40" x2="430.50" y2="600.00" stroke="#444" stroke-width="1.0" stroke-dasharray="6 2 1.5 2" stroke-linecap="butt"/>
<path d="M413.4,555.7 L417.3,555.7 Q419.3,555.7 419.3,558.7 L419.3,572.7 Q419.3,575.7 417.3,575.7 L413.4,575.7 Q411.4,575.7 411.4,572.7 L411.4,558.7 Q411.4,555.7 413.4,555.7 Z" stroke="#111" stroke-width="1.6" fill="#fff" stroke-linejoin="round" />
<line x1="411.40" y1="561.50" x2="419.30" y2="561.50" stroke="#111" stroke-width="1.2" stroke-linecap="butt"/>
<line x1="411.40" y1="570.50" x2="419.30" y2="570.50" stroke="#111" stroke-width="1.2" stroke-linecap="butt"/>
<path d="M442.7,555.7 L446.6,555.7 Q448.6,555.7 448.6,558.7 L448.6,572.7 Q448.6,575.7 446.6,575.7 L442.7,575.7 Q440.7,575.7 440.7,572.7 L440.7,558.7 Q440.7,555.7 442.7,555.7 Z" stroke="#111" stroke-width="1.6" fill="#fff" stroke-linejoin="round" />
<line x1="440.70" y1="561.50" x2="448.60" y2="561.50" stroke="#111" stroke-width="1.2" stroke-linecap="butt"/>
<line x1="440.70" y1="570.50" x2="448.60" y2="570.50" stroke="#111" stroke-width="1.2" stroke-linecap="butt"/>
<path d="M573.4,555.7 L576.6,555.7 Q578.6,555.7 578.6,558.7 L578.6,572.7 Q578.6,575.7 576.6,575.7 L573.4,575.7 Q571.4,575.7 571.4,572.7 L571.4,558.7 Q571.4,555.7 573.4,555.7 Z" stroke="#111" stroke-width="1.6" fill="#fff" stroke-linejoin="round" />
<line x1="571.40" y1="561.50" x2="578.60" y2="561.50" stroke="#111" stroke-width="1.2" stroke-linecap="butt"/>
<line x1="571.40" y1="570.50" x2="578.60" y2="570.50" stroke="#111" stroke-width="1.2" stroke-linecap="butt"/>
<path d="M602,555.7 L605.4,555.7 Q607.4,555.7 607.4,558.7 L607.4,572.7 Q607.4,575.7 605.4,575.7 L602,575.7 Q600,575.7 600,572.7 L600,558.7 Q600,555.7 602,555.7 Z" stroke="#111" stroke-width="1.6" fill="#fff" stroke-linejoin="round" />
<line x1="600.00" y1="561.50" x2="607.40" y2="561.50" stroke="#111" stroke-width="1.2" stroke-linecap="butt"/>
<line x1="600.00" y1="570.50" x2="607.40" y2="570.50" stroke="#111" stroke-width="1.2" stroke-linecap="butt"/>
<path d="M448.6,559.3 L462.9,559.3 M448.6,572.1 L462.9,572.1 M474.3,559.3 L488.6,559.3 M474.3,572.1 L488.6,572.1" stroke="#111" stroke-width="1.6" fill="none" stroke-linejoin="round" />
<path d="M530.7,559.3 L545,559.3 M530.7,572.1 L545,572.1 M556.4,559.3 L571.4,559.3 M556.4,572.1 L571.4,572.1" stroke="#111" stroke-width="1.6" fill="none" stroke-linejoin="round" />
<path d="M464.9,557.9 L472.3,557.9 Q474.3,557.9 474.3,560.9 L474.3,570.6 Q474.3,573.6 472.3,573.6 L464.9,573.6 Q462.9,573.6 462.9,570.6 L462.9,560.9 Q462.9,557.9 464.9,557.9 Z" stroke="#111" stroke-width="1.6" fill="#fff" stroke-linejoin="round" />
<line x1="462.90" y1="562.50" x2="474.30" y2="562.50" stroke="#111" stroke-width="1.2" stroke-linecap="butt"/>
<line x1="462.90" y1="569.50" x2="474.30" y2="569.50" stroke="#111" stroke-width="1.2" stroke-linecap="butt"/>
<path d="M547,557.9 L554.4,557.9 Q556.4,557.9 556.4,560.9 L556.4,570.6 Q556.4,573.6 554.4,573.6 L547,573.6 Q545,573.6 545,570.6 L545,560.9 Q545,557.9 547,557.9 Z" stroke="#111" stroke-width="1.6" fill="#fff" stroke-linejoin="round" />
<line x1="545.00" y1="562.50" x2="556.40" y2="562.50" stroke="#111" stroke-width="1.2" stroke-linecap="butt"/>
<line x1="545.00" y1="569.50" x2="556.40" y2="569.50" stroke="#111" stroke-width="1.2" stroke-linecap="butt"/>
<path d="M498.6,556.4 A11.1,11.1 0 1 1 520.2,556.4" stroke="#111" stroke-width="1.6" fill="none" stroke-linejoin="round" />
<path d="M498.6,556.4 A11.1,11.1 0 0 0 500.9,561 M520.2,556.4 A11.1,11.1 0 0 1 517.9,561" stroke="#111" stroke-width="1.2" fill="none" stroke-linejoin="round" />
<path d="M498.6,556.4 L491.3,556.4 M520.2,556.4 L528.9,556.4 Q531.3,556.4 531.3,559 L531.3,572.7 Q531.3,575.3 528.9,575.3 L521,575.3 L521,585.6 L497.9,585.6 L497.9,575.3 L491.3,575.3 Q488.9,575.3 488.9,572.7 L488.9,559 Q488.9,556.4 491.3,556.4" stroke="#111" stroke-width="1.6" fill="none" stroke-linejoin="round" />
<circle cx="509.4" cy="565.4" r="8.9" stroke="#111" stroke-width="1.7" fill="#fff"/>
<circle cx="509.4" cy="565.4" r="6.4" stroke="#111" stroke-width="1.7" fill="none"/>
<path d="M504.3,574.3 L504.3,578 Q504.3,583 509.6,583 Q515,583 515,578 L515,574.3" stroke="#111" stroke-width="1.5" fill="none" stroke-linejoin="round" />
<rect x="497.90" y="585.80" width="23.10" height="1.80" rx="0" stroke="#111" stroke-width="0.8" fill="#222"/>
<path d="M499,591.5 L499,588 M505,591.5 L505,588 M514,591.5 L514,588 M520,591.5 L520,588" stroke="#333" stroke-width="1.0" fill="none" stroke-linejoin="round" />
<line x1="494.00" y1="584.70" x2="494.00" y2="591.80" stroke="#111" stroke-width="1.5" stroke-linecap="butt"/>
<line x1="525.30" y1="584.70" x2="525.30" y2="591.80" stroke="#111" stroke-width="1.5" stroke-linecap="butt"/>
<rect x="492.60" y="591.80" width="33.80" height="5.60" rx="0" stroke="#111" stroke-width="1.6" fill="#fff"/>
<rect x="496.70" y="597.40" width="25.70" height="5.70" rx="0" stroke="#111" stroke-width="1.6" fill="#fff"/>
<rect x="498.40" y="603.10" width="22.30" height="4.00" rx="0" stroke="#111" stroke-width="1.6" fill="#fff"/>
<path d="M499.6,607.1 L499.6,618.5 Q499.6,624.9 505.9,624.9 L513.3,624.9 Q519.6,624.9 519.6,618.5 L519.6,607.1" stroke="#111" stroke-width="1.6" fill="none" stroke-linejoin="round" />
<path d="M505.70000000000005,624.9 L505.70000000000005,627.7 L503.6,630 L515.6,630 L513.5,627.7 L513.5,624.9" stroke="#111" stroke-width="1.5" fill="none" stroke-linejoin="round" />
<path d="M505.1,628.2 L514.1,628.2 L515.6,630 L503.6,630 Z" fill="#111"/>
<path d="M489.6,630 L528.8000000000001,630 L528.8000000000001,636.3 L499.6,636.3 Q491.1,636.3 489.6,631.5 Z" stroke="#111" stroke-width="1.6" fill="none" stroke-linejoin="round" />
<path d="M497.1,630 L497.1,636.3 M523.1,630 L523.1,636.3 M498.6,635.8 Q513.6,635.3 521.6,630.5" stroke="#111" stroke-width="1.1" fill="none" stroke-linejoin="round" />
</svg>
</body></html>
